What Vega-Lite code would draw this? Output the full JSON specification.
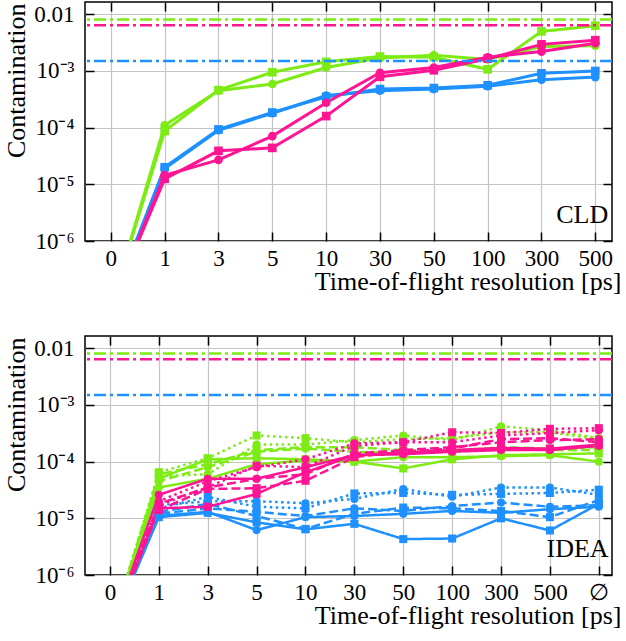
{
  "$schema": "https://vega.github.io/schema/vega-lite/v6.json",
  "padding": {"left": 2, "top": 0, "right": 2, "bottom": 0},
  "spacing": 39,
  "datasets": {
    "refs": [
      {"grp": "g1", "c": 0.0081},
      {"grp": "g2", "c": 0.0064},
      {"grp": "g3", "c": 0.0015}
    ],
    "cld": [
      {"grp":"g3","var":"v1","opt":"o1","step":0,"c":7e-8},
      {"grp":"g3","var":"v1","opt":"o1","step":1,"c":1.9e-5},
      {"grp":"g3","var":"v1","opt":"o1","step":2,"c":9e-5},
      {"grp":"g3","var":"v1","opt":"o1","step":3,"c":1.8e-4},
      {"grp":"g3","var":"v1","opt":"o1","step":4,"c":3.7e-4},
      {"grp":"g3","var":"v1","opt":"o1","step":5,"c":4.5e-4},
      {"grp":"g3","var":"v1","opt":"o1","step":6,"c":4.8e-4},
      {"grp":"g3","var":"v1","opt":"o1","step":7,"c":5.4e-4},
      {"grp":"g3","var":"v1","opt":"o1","step":8,"c":7.0e-4},
      {"grp":"g3","var":"v1","opt":"o1","step":9,"c":7.8e-4},
      {"grp":"g3","var":"v2","opt":"o1","step":0,"c":7e-8},
      {"grp":"g3","var":"v2","opt":"o1","step":1,"c":2.0e-5},
      {"grp":"g3","var":"v2","opt":"o1","step":2,"c":9.3e-5},
      {"grp":"g3","var":"v2","opt":"o1","step":3,"c":1.85e-4},
      {"grp":"g3","var":"v2","opt":"o1","step":4,"c":3.5e-4},
      {"grp":"g3","var":"v2","opt":"o1","step":5,"c":4.8e-4},
      {"grp":"g3","var":"v2","opt":"o1","step":6,"c":5.0e-4},
      {"grp":"g3","var":"v2","opt":"o1","step":7,"c":5.6e-4},
      {"grp":"g3","var":"v2","opt":"o1","step":8,"c":9.1e-4},
      {"grp":"g3","var":"v2","opt":"o1","step":9,"c":1.0e-3},
      {"grp":"g1","var":"v1","opt":"o1","step":0,"c":7e-8},
      {"grp":"g1","var":"v1","opt":"o1","step":1,"c":1.1e-4},
      {"grp":"g1","var":"v1","opt":"o1","step":2,"c":4.5e-4},
      {"grp":"g1","var":"v1","opt":"o1","step":3,"c":5.9e-4},
      {"grp":"g1","var":"v1","opt":"o1","step":4,"c":1.15e-3},
      {"grp":"g1","var":"v1","opt":"o1","step":5,"c":1.7e-3},
      {"grp":"g1","var":"v1","opt":"o1","step":6,"c":1.9e-3},
      {"grp":"g1","var":"v1","opt":"o1","step":7,"c":1.6e-3},
      {"grp":"g1","var":"v1","opt":"o1","step":8,"c":2.7e-3},
      {"grp":"g1","var":"v1","opt":"o1","step":9,"c":2.8e-3},
      {"grp":"g1","var":"v2","opt":"o1","step":0,"c":7e-8},
      {"grp":"g1","var":"v2","opt":"o1","step":1,"c":8.7e-5},
      {"grp":"g1","var":"v2","opt":"o1","step":2,"c":4.6e-4},
      {"grp":"g1","var":"v2","opt":"o1","step":3,"c":9.5e-4},
      {"grp":"g1","var":"v2","opt":"o1","step":4,"c":1.45e-3},
      {"grp":"g1","var":"v2","opt":"o1","step":5,"c":1.8e-3},
      {"grp":"g1","var":"v2","opt":"o1","step":6,"c":1.75e-3},
      {"grp":"g1","var":"v2","opt":"o1","step":7,"c":1.07e-3},
      {"grp":"g1","var":"v2","opt":"o1","step":8,"c":5.0e-3},
      {"grp":"g1","var":"v2","opt":"o1","step":9,"c":6.3e-3},
      {"grp":"g2","var":"v1","opt":"o1","step":0,"c":7e-8},
      {"grp":"g2","var":"v1","opt":"o1","step":1,"c":1.45e-5},
      {"grp":"g2","var":"v1","opt":"o1","step":2,"c":2.7e-5},
      {"grp":"g2","var":"v1","opt":"o1","step":3,"c":7.1e-5},
      {"grp":"g2","var":"v1","opt":"o1","step":4,"c":2.75e-4},
      {"grp":"g2","var":"v1","opt":"o1","step":5,"c":9.3e-4},
      {"grp":"g2","var":"v1","opt":"o1","step":6,"c":1.15e-3},
      {"grp":"g2","var":"v1","opt":"o1","step":7,"c":1.75e-3},
      {"grp":"g2","var":"v1","opt":"o1","step":8,"c":2.2e-3},
      {"grp":"g2","var":"v1","opt":"o1","step":9,"c":3.1e-3},
      {"grp":"g2","var":"v2","opt":"o1","step":0,"c":7e-8},
      {"grp":"g2","var":"v2","opt":"o1","step":1,"c":1.25e-5},
      {"grp":"g2","var":"v2","opt":"o1","step":2,"c":3.9e-5},
      {"grp":"g2","var":"v2","opt":"o1","step":3,"c":4.4e-5},
      {"grp":"g2","var":"v2","opt":"o1","step":4,"c":1.6e-4},
      {"grp":"g2","var":"v2","opt":"o1","step":5,"c":7.9e-4},
      {"grp":"g2","var":"v2","opt":"o1","step":6,"c":1.03e-3},
      {"grp":"g2","var":"v2","opt":"o1","step":7,"c":1.65e-3},
      {"grp":"g2","var":"v2","opt":"o1","step":8,"c":2.95e-3},
      {"grp":"g2","var":"v2","opt":"o1","step":9,"c":3.5e-3}
    ],
    "idea": [
      {"grp":"g3","var":"v1","opt":"o1","step":0,"c":1e-7},{"grp":"g3","var":"v1","opt":"o1","step":1,"c":1.1e-5},{"grp":"g3","var":"v1","opt":"o1","step":2,"c":1.3e-5},{"grp":"g3","var":"v1","opt":"o1","step":3,"c":6.2e-6},{"grp":"g3","var":"v1","opt":"o1","step":4,"c":1.05e-5},{"grp":"g3","var":"v1","opt":"o1","step":5,"c":1.1e-5},{"grp":"g3","var":"v1","opt":"o1","step":6,"c":1.2e-5},{"grp":"g3","var":"v1","opt":"o1","step":7,"c":1.35e-5},{"grp":"g3","var":"v1","opt":"o1","step":8,"c":1.25e-5},{"grp":"g3","var":"v1","opt":"o1","step":9,"c":1.45e-5},{"grp":"g3","var":"v1","opt":"o1","step":10,"c":1.6e-5},
      {"grp":"g3","var":"v2","opt":"o1","step":0,"c":1e-7},{"grp":"g3","var":"v2","opt":"o1","step":1,"c":1.05e-5},{"grp":"g3","var":"v2","opt":"o1","step":2,"c":1.25e-5},{"grp":"g3","var":"v2","opt":"o1","step":3,"c":8.5e-6},{"grp":"g3","var":"v2","opt":"o1","step":4,"c":6.4e-6},{"grp":"g3","var":"v2","opt":"o1","step":5,"c":8.0e-6},{"grp":"g3","var":"v2","opt":"o1","step":6,"c":4.3e-6},{"grp":"g3","var":"v2","opt":"o1","step":7,"c":4.4e-6},{"grp":"g3","var":"v2","opt":"o1","step":8,"c":1.0e-5},{"grp":"g3","var":"v2","opt":"o1","step":9,"c":6.1e-6},{"grp":"g3","var":"v2","opt":"o1","step":10,"c":1.8e-5},
      {"grp":"g3","var":"v1","opt":"o2","step":0,"c":1e-7},{"grp":"g3","var":"v1","opt":"o2","step":1,"c":1.2e-5},{"grp":"g3","var":"v1","opt":"o2","step":2,"c":1.5e-5},{"grp":"g3","var":"v1","opt":"o2","step":3,"c":1.3e-5},{"grp":"g3","var":"v1","opt":"o2","step":4,"c":1.1e-5},{"grp":"g3","var":"v1","opt":"o2","step":5,"c":1.5e-5},{"grp":"g3","var":"v1","opt":"o2","step":6,"c":1.35e-5},{"grp":"g3","var":"v1","opt":"o2","step":7,"c":1.65e-5},{"grp":"g3","var":"v1","opt":"o2","step":8,"c":1.9e-5},{"grp":"g3","var":"v1","opt":"o2","step":9,"c":1.6e-5},{"grp":"g3","var":"v1","opt":"o2","step":10,"c":1.7e-5},
      {"grp":"g3","var":"v2","opt":"o2","step":0,"c":1e-7},{"grp":"g3","var":"v2","opt":"o2","step":1,"c":1.3e-5},{"grp":"g3","var":"v2","opt":"o2","step":2,"c":1.8e-5},{"grp":"g3","var":"v2","opt":"o2","step":3,"c":1.1e-5},{"grp":"g3","var":"v2","opt":"o2","step":4,"c":6.5e-6},{"grp":"g3","var":"v2","opt":"o2","step":5,"c":1.2e-5},{"grp":"g3","var":"v2","opt":"o2","step":6,"c":1.55e-5},{"grp":"g3","var":"v2","opt":"o2","step":7,"c":1.5e-5},{"grp":"g3","var":"v2","opt":"o2","step":8,"c":1.35e-5},{"grp":"g3","var":"v2","opt":"o2","step":9,"c":1.05e-5},{"grp":"g3","var":"v2","opt":"o2","step":10,"c":2.1e-5},
      {"grp":"g3","var":"v1","opt":"o3","step":0,"c":1e-7},{"grp":"g3","var":"v1","opt":"o3","step":1,"c":1.7e-5},{"grp":"g3","var":"v1","opt":"o3","step":2,"c":2.0e-5},{"grp":"g3","var":"v1","opt":"o3","step":3,"c":2.0e-5},{"grp":"g3","var":"v1","opt":"o3","step":4,"c":1.85e-5},{"grp":"g3","var":"v1","opt":"o3","step":5,"c":2.2e-5},{"grp":"g3","var":"v1","opt":"o3","step":6,"c":3.3e-5},{"grp":"g3","var":"v1","opt":"o3","step":7,"c":2.4e-5},{"grp":"g3","var":"v1","opt":"o3","step":8,"c":3.5e-5},{"grp":"g3","var":"v1","opt":"o3","step":9,"c":3.5e-5},{"grp":"g3","var":"v1","opt":"o3","step":10,"c":2.6e-5},
      {"grp":"g3","var":"v2","opt":"o3","step":0,"c":1e-7},{"grp":"g3","var":"v2","opt":"o3","step":1,"c":1.5e-5},{"grp":"g3","var":"v2","opt":"o3","step":2,"c":2.4e-5},{"grp":"g3","var":"v2","opt":"o3","step":3,"c":1.6e-5},{"grp":"g3","var":"v2","opt":"o3","step":4,"c":1.5e-5},{"grp":"g3","var":"v2","opt":"o3","step":5,"c":2.75e-5},{"grp":"g3","var":"v2","opt":"o3","step":6,"c":2.8e-5},{"grp":"g3","var":"v2","opt":"o3","step":7,"c":2.6e-5},{"grp":"g3","var":"v2","opt":"o3","step":8,"c":2.7e-5},{"grp":"g3","var":"v2","opt":"o3","step":9,"c":2.8e-5},{"grp":"g3","var":"v2","opt":"o3","step":10,"c":3.2e-5},
      {"grp":"g1","var":"v1","opt":"o1","step":0,"c":1e-7},{"grp":"g1","var":"v1","opt":"o1","step":1,"c":3.5e-5},{"grp":"g1","var":"v1","opt":"o1","step":2,"c":5e-5},{"grp":"g1","var":"v1","opt":"o1","step":3,"c":9e-5},{"grp":"g1","var":"v1","opt":"o1","step":4,"c":1.05e-4},{"grp":"g1","var":"v1","opt":"o1","step":5,"c":1.0e-4},{"grp":"g1","var":"v1","opt":"o1","step":6,"c":1.2e-4},{"grp":"g1","var":"v1","opt":"o1","step":7,"c":1.2e-4},{"grp":"g1","var":"v1","opt":"o1","step":8,"c":1.25e-4},{"grp":"g1","var":"v1","opt":"o1","step":9,"c":1.3e-4},{"grp":"g1","var":"v1","opt":"o1","step":10,"c":1.0e-4},
      {"grp":"g1","var":"v2","opt":"o1","step":0,"c":1e-7},{"grp":"g1","var":"v2","opt":"o1","step":1,"c":5e-5},{"grp":"g1","var":"v2","opt":"o1","step":2,"c":1.1e-4},{"grp":"g1","var":"v2","opt":"o1","step":3,"c":1.15e-4},{"grp":"g1","var":"v2","opt":"o1","step":4,"c":1.1e-4},{"grp":"g1","var":"v2","opt":"o1","step":5,"c":1.0e-4},{"grp":"g1","var":"v2","opt":"o1","step":6,"c":7.6e-5},{"grp":"g1","var":"v2","opt":"o1","step":7,"c":1.1e-4},{"grp":"g1","var":"v2","opt":"o1","step":8,"c":1.3e-4},{"grp":"g1","var":"v2","opt":"o1","step":9,"c":1.35e-4},{"grp":"g1","var":"v2","opt":"o1","step":10,"c":1.4e-4},
      {"grp":"g1","var":"v1","opt":"o2","step":0,"c":1e-7},{"grp":"g1","var":"v1","opt":"o2","step":1,"c":4.5e-5},{"grp":"g1","var":"v1","opt":"o2","step":2,"c":8e-5},{"grp":"g1","var":"v1","opt":"o2","step":3,"c":1.5e-4},{"grp":"g1","var":"v1","opt":"o2","step":4,"c":1.7e-4},{"grp":"g1","var":"v1","opt":"o2","step":5,"c":1.5e-4},{"grp":"g1","var":"v1","opt":"o2","step":6,"c":1.4e-4},{"grp":"g1","var":"v1","opt":"o2","step":7,"c":1.5e-4},{"grp":"g1","var":"v1","opt":"o2","step":8,"c":1.7e-4},{"grp":"g1","var":"v1","opt":"o2","step":9,"c":1.6e-4},{"grp":"g1","var":"v1","opt":"o2","step":10,"c":1.6e-4},
      {"grp":"g1","var":"v2","opt":"o2","step":0,"c":1e-7},{"grp":"g1","var":"v2","opt":"o2","step":1,"c":6e-5},{"grp":"g1","var":"v2","opt":"o2","step":2,"c":9e-5},{"grp":"g1","var":"v2","opt":"o2","step":3,"c":1.6e-4},{"grp":"g1","var":"v2","opt":"o2","step":4,"c":1.8e-4},{"grp":"g1","var":"v2","opt":"o2","step":5,"c":1.8e-4},{"grp":"g1","var":"v2","opt":"o2","step":6,"c":1.6e-4},{"grp":"g1","var":"v2","opt":"o2","step":7,"c":1.55e-4},{"grp":"g1","var":"v2","opt":"o2","step":8,"c":1.8e-4},{"grp":"g1","var":"v2","opt":"o2","step":9,"c":1.7e-4},{"grp":"g1","var":"v2","opt":"o2","step":10,"c":1.8e-4},
      {"grp":"g1","var":"v1","opt":"o3","step":0,"c":1e-7},{"grp":"g1","var":"v1","opt":"o3","step":1,"c":5.5e-5},{"grp":"g1","var":"v1","opt":"o3","step":2,"c":6e-5},{"grp":"g1","var":"v1","opt":"o3","step":3,"c":2.0e-4},{"grp":"g1","var":"v1","opt":"o3","step":4,"c":2.0e-4},{"grp":"g1","var":"v1","opt":"o3","step":5,"c":2.4e-4},{"grp":"g1","var":"v1","opt":"o3","step":6,"c":2.9e-4},{"grp":"g1","var":"v1","opt":"o3","step":7,"c":2.4e-4},{"grp":"g1","var":"v1","opt":"o3","step":8,"c":4.2e-4},{"grp":"g1","var":"v1","opt":"o3","step":9,"c":3.6e-4},{"grp":"g1","var":"v1","opt":"o3","step":10,"c":2.6e-4},
      {"grp":"g1","var":"v2","opt":"o3","step":0,"c":1e-7},{"grp":"g1","var":"v2","opt":"o3","step":1,"c":6.5e-5},{"grp":"g1","var":"v2","opt":"o3","step":2,"c":1.15e-4},{"grp":"g1","var":"v2","opt":"o3","step":3,"c":2.9e-4},{"grp":"g1","var":"v2","opt":"o3","step":4,"c":2.6e-4},{"grp":"g1","var":"v2","opt":"o3","step":5,"c":2.2e-4},{"grp":"g1","var":"v2","opt":"o3","step":6,"c":2.5e-4},{"grp":"g1","var":"v2","opt":"o3","step":7,"c":2.6e-4},{"grp":"g1","var":"v2","opt":"o3","step":8,"c":3.3e-4},{"grp":"g1","var":"v2","opt":"o3","step":9,"c":3.3e-4},{"grp":"g1","var":"v2","opt":"o3","step":10,"c":2.5e-4},
      {"grp":"g2","var":"v1","opt":"o1","step":0,"c":1e-7},{"grp":"g2","var":"v1","opt":"o1","step":1,"c":2.6e-5},{"grp":"g2","var":"v1","opt":"o1","step":2,"c":5e-5},{"grp":"g2","var":"v1","opt":"o1","step":3,"c":5e-5},{"grp":"g2","var":"v1","opt":"o1","step":4,"c":8e-5},{"grp":"g2","var":"v1","opt":"o1","step":5,"c":1.3e-4},{"grp":"g2","var":"v1","opt":"o1","step":6,"c":1.35e-4},{"grp":"g2","var":"v1","opt":"o1","step":7,"c":1.5e-4},{"grp":"g2","var":"v1","opt":"o1","step":8,"c":1.6e-4},{"grp":"g2","var":"v1","opt":"o1","step":9,"c":1.6e-4},{"grp":"g2","var":"v1","opt":"o1","step":10,"c":1.9e-4},
      {"grp":"g2","var":"v2","opt":"o1","step":0,"c":1e-7},{"grp":"g2","var":"v2","opt":"o1","step":1,"c":1.5e-5},{"grp":"g2","var":"v2","opt":"o1","step":2,"c":1.6e-5},{"grp":"g2","var":"v2","opt":"o1","step":3,"c":2.7e-5},{"grp":"g2","var":"v2","opt":"o1","step":4,"c":6.5e-5},{"grp":"g2","var":"v2","opt":"o1","step":5,"c":1.3e-4},{"grp":"g2","var":"v2","opt":"o1","step":6,"c":1.45e-4},{"grp":"g2","var":"v2","opt":"o1","step":7,"c":1.6e-4},{"grp":"g2","var":"v2","opt":"o1","step":8,"c":1.75e-4},{"grp":"g2","var":"v2","opt":"o1","step":9,"c":1.7e-4},{"grp":"g2","var":"v2","opt":"o1","step":10,"c":2.0e-4},
      {"grp":"g2","var":"v1","opt":"o2","step":0,"c":1e-7},{"grp":"g2","var":"v1","opt":"o2","step":1,"c":1.8e-5},{"grp":"g2","var":"v1","opt":"o2","step":2,"c":3.5e-5},{"grp":"g2","var":"v1","opt":"o2","step":3,"c":5e-5},{"grp":"g2","var":"v1","opt":"o2","step":4,"c":6e-5},{"grp":"g2","var":"v1","opt":"o2","step":5,"c":1.4e-4},{"grp":"g2","var":"v1","opt":"o2","step":6,"c":1.6e-4},{"grp":"g2","var":"v1","opt":"o2","step":7,"c":1.8e-4},{"grp":"g2","var":"v1","opt":"o2","step":8,"c":2.2e-4},{"grp":"g2","var":"v1","opt":"o2","step":9,"c":2.4e-4},{"grp":"g2","var":"v1","opt":"o2","step":10,"c":2.5e-4},
      {"grp":"g2","var":"v2","opt":"o2","step":0,"c":1e-7},{"grp":"g2","var":"v2","opt":"o2","step":1,"c":1.4e-5},{"grp":"g2","var":"v2","opt":"o2","step":2,"c":3.3e-5},{"grp":"g2","var":"v2","opt":"o2","step":3,"c":3.4e-5},{"grp":"g2","var":"v2","opt":"o2","step":4,"c":4.6e-5},{"grp":"g2","var":"v2","opt":"o2","step":5,"c":1.2e-4},{"grp":"g2","var":"v2","opt":"o2","step":6,"c":1.5e-4},{"grp":"g2","var":"v2","opt":"o2","step":7,"c":1.7e-4},{"grp":"g2","var":"v2","opt":"o2","step":8,"c":2.5e-4},{"grp":"g2","var":"v2","opt":"o2","step":9,"c":2.6e-4},{"grp":"g2","var":"v2","opt":"o2","step":10,"c":2.2e-4},
      {"grp":"g2","var":"v1","opt":"o3","step":0,"c":1e-7},{"grp":"g2","var":"v1","opt":"o3","step":1,"c":2.0e-5},{"grp":"g2","var":"v1","opt":"o3","step":2,"c":4.5e-5},{"grp":"g2","var":"v1","opt":"o3","step":3,"c":8e-5},{"grp":"g2","var":"v1","opt":"o3","step":4,"c":1.1e-4},{"grp":"g2","var":"v1","opt":"o3","step":5,"c":2.1e-4},{"grp":"g2","var":"v1","opt":"o3","step":6,"c":2.2e-4},{"grp":"g2","var":"v1","opt":"o3","step":7,"c":2.2e-4},{"grp":"g2","var":"v1","opt":"o3","step":8,"c":2.9e-4},{"grp":"g2","var":"v1","opt":"o3","step":9,"c":3.2e-4},{"grp":"g2","var":"v1","opt":"o3","step":10,"c":3.6e-4},
      {"grp":"g2","var":"v2","opt":"o3","step":0,"c":1e-7},{"grp":"g2","var":"v2","opt":"o3","step":1,"c":1.7e-5},{"grp":"g2","var":"v2","opt":"o3","step":2,"c":3.5e-5},{"grp":"g2","var":"v2","opt":"o3","step":3,"c":8.5e-5},{"grp":"g2","var":"v2","opt":"o3","step":4,"c":8e-5},{"grp":"g2","var":"v2","opt":"o3","step":5,"c":1.9e-4},{"grp":"g2","var":"v2","opt":"o3","step":6,"c":2.2e-4},{"grp":"g2","var":"v2","opt":"o3","step":7,"c":3.3e-4},{"grp":"g2","var":"v2","opt":"o3","step":8,"c":3.2e-4},{"grp":"g2","var":"v2","opt":"o3","step":9,"c":3.8e-4},{"grp":"g2","var":"v2","opt":"o3","step":10,"c":3.9e-4}
    ]
  },
  "vconcat": [
    {
      "width": 527,
      "height": 239,
      "layer": [
        {
          "data": {"name": "cld"},
          "mark": {"type": "line", "strokeWidth": 3, "clip": true},
          "encoding": {
            "x": {"field": "step", "type": "quantitative", "scale": {"domain": [-0.48, 9.31], "nice": false, "zero": false},
              "axis": {"orient": "bottom", "offset": -9, "domain": false, "values": [0,1,2,3,4,5,6,7,8,9],
                "labelExpr": "['0','1','3','5','10','30','50','100','300','500','∅'][round(datum.value)]",
                "ticks": true, "tickSize": 9, "tickColor": "black", "tickWidth": 1.5,
                "grid": true, "gridColor": "#c4c4c4", "gridWidth": 1.2,
                "labelPadding": 6, "labelOverlap": false, "labelFlush": false,
                "title": "Time-of-flight resolution [ps]", "titleAlign": "right", "titleAnchor": "end", "titleBaseline": "alphabetic", "titleX": 536, "titleY": 57}},
            "y": {"field": "c", "type": "quantitative", "scale": {"type": "log", "domain": [1e-6, 0.0165], "nice": false},
              "axis": {"orient": "left", "offset": -9, "domain": false, "values": [1e-6,1e-5,1e-4,1e-3,1e-2],
                "labelExpr": "round(log(datum.value)/LN10) == -2 ? '0.01' : '10⁻' + ['⁰','¹','²','³','⁴','⁵','⁶','⁷'][-round(log(datum.value)/LN10)]",
                "ticks": true, "tickSize": 9, "tickColor": "black", "tickWidth": 1.5,
                "grid": true, "gridColor": "#c4c4c4", "gridWidth": 1.2,
                "labelPadding": 11, "labelOverlap": false, "labelFlush": false,
                "title": "Contamination", "titleAlign": "right", "titleAnchor": "end", "titleBaseline": "alphabetic", "titleAngle": 270, "titleX": -70, "titleY": 1, "titleFontSize": 26}},
            "color": {"field": "grp", "type": "nominal", "scale": {"domain": ["g1", "g2", "g3"], "range": ["#7cec14", "#ff1493", "#1e90ff"]}, "legend": null},
            "detail": {"field": "var"}
          }
        },
        {
          "data": {"name": "cld"},
          "mark": {"type": "point", "filled": true, "size": 75, "opacity": 1, "clip": true},
          "encoding": {
            "x": {"field": "step", "type": "quantitative",
              "axis": {"orient": "top", "offset": -9, "values": [0,1,2,3,4,5,6,7,8,9],
                "labels": false, "domain": false, "title": null, "grid": false,
                "ticks": true, "tickSize": 9, "tickColor": "black", "tickWidth": 1.5}},
            "y": {"field": "c", "type": "quantitative",
              "axis": {"orient": "right", "offset": -9, "values": [1e-6,1e-5,1e-4,1e-3,1e-2],
                "labels": false, "domain": false, "title": null, "grid": false,
                "ticks": true, "tickSize": 9, "tickColor": "black", "tickWidth": 1.5}},
            "color": {"field": "grp", "type": "nominal", "legend": null},
            "shape": {"field": "var", "type": "nominal", "scale": {"domain": ["v1", "v2"], "range": ["circle", "square"]}, "legend": null}
          }
        },
        {
          "data": {"name": "refs"},
          "mark": {"type": "rule", "strokeWidth": 2.5, "strokeDash": [12, 4, 3, 4]},
          "encoding": {
            "y": {"field": "c", "type": "quantitative", "axis": null},
            "color": {"field": "grp", "type": "nominal", "legend": null}
          }
        },
        {
          "data": {"values": [{"label": "CLD"}]},
          "mark": {"type": "text", "align": "right", "baseline": "alphabetic", "fontSize": 26, "font": "Liberation Serif", "color": "black"},
          "encoding": {
            "x": {"datum": 9.24, "type": "quantitative", "axis": null},
            "y": {"datum": 2.1e-6, "type": "quantitative", "axis": null},
            "text": {"field": "label"}
          }
        }
      ],
      "resolve": {"axis": {"x": "independent", "y": "independent"}}
    },
    {
      "width": 527,
      "height": 239,
      "layer": [
        {
          "data": {"name": "idea"},
          "mark": {"type": "line", "strokeWidth": 2.5, "clip": true},
          "encoding": {
            "x": {"field": "step", "type": "quantitative", "scale": {"domain": [-0.51, 10.27], "nice": false, "zero": false},
              "axis": {"orient": "bottom", "offset": -9, "domain": false, "values": [0,1,2,3,4,5,6,7,8,9,10],
                "labelExpr": "['0','1','3','5','10','30','50','100','300','500','∅'][round(datum.value)]",
                "ticks": true, "tickSize": 9, "tickColor": "black", "tickWidth": 1.5,
                "grid": true, "gridColor": "#c4c4c4", "gridWidth": 1.2,
                "labelPadding": 6, "labelOverlap": false, "labelFlush": false,
                "title": "Time-of-flight resolution [ps]", "titleAlign": "right", "titleAnchor": "end", "titleBaseline": "alphabetic", "titleX": 536, "titleY": 57}},
            "y": {"field": "c", "type": "quantitative", "scale": {"type": "log", "domain": [1e-6, 0.0165], "nice": false},
              "axis": {"orient": "left", "offset": -9, "domain": false, "values": [1e-6,1e-5,1e-4,1e-3,1e-2],
                "labelExpr": "round(log(datum.value)/LN10) == -2 ? '0.01' : '10⁻' + ['⁰','¹','²','³','⁴','⁵','⁶','⁷'][-round(log(datum.value)/LN10)]",
                "ticks": true, "tickSize": 9, "tickColor": "black", "tickWidth": 1.5,
                "grid": true, "gridColor": "#c4c4c4", "gridWidth": 1.2,
                "labelPadding": 11, "labelOverlap": false, "labelFlush": false,
                "title": "Contamination", "titleAlign": "right", "titleAnchor": "end", "titleBaseline": "alphabetic", "titleAngle": 270, "titleX": -70, "titleY": 1, "titleFontSize": 26}},
            "color": {"field": "grp", "type": "nominal", "scale": {"domain": ["g1", "g2", "g3"], "range": ["#7cec14", "#ff1493", "#1e90ff"]}, "legend": null},
            "strokeDash": {"field": "opt", "type": "nominal", "scale": {"domain": ["o1", "o2", "o3"], "range": [[1, 0], [9, 4], [2.5, 3.5]]}, "legend": null},
            "detail": {"field": "var"}
          }
        },
        {
          "data": {"name": "idea"},
          "mark": {"type": "point", "filled": true, "size": 65, "opacity": 1, "clip": true},
          "encoding": {
            "x": {"field": "step", "type": "quantitative",
              "axis": {"orient": "top", "offset": -9, "values": [0,1,2,3,4,5,6,7,8,9,10],
                "labels": false, "domain": false, "title": null, "grid": false,
                "ticks": true, "tickSize": 9, "tickColor": "black", "tickWidth": 1.5}},
            "y": {"field": "c", "type": "quantitative",
              "axis": {"orient": "right", "offset": -9, "values": [1e-6,1e-5,1e-4,1e-3,1e-2],
                "labels": false, "domain": false, "title": null, "grid": false,
                "ticks": true, "tickSize": 9, "tickColor": "black", "tickWidth": 1.5}},
            "color": {"field": "grp", "type": "nominal", "legend": null},
            "shape": {"field": "var", "type": "nominal", "scale": {"domain": ["v1", "v2"], "range": ["circle", "square"]}, "legend": null}
          }
        },
        {
          "data": {"name": "refs"},
          "mark": {"type": "rule", "strokeWidth": 2.5, "strokeDash": [12, 4, 3, 4]},
          "encoding": {
            "y": {"field": "c", "type": "quantitative", "axis": null},
            "color": {"field": "grp", "type": "nominal", "legend": null}
          }
        },
        {
          "data": {"values": [{"label": "IDEA"}]},
          "mark": {"type": "text", "align": "right", "baseline": "alphabetic", "fontSize": 26, "font": "Liberation Serif", "color": "black"},
          "encoding": {
            "x": {"datum": 10.2, "type": "quantitative", "axis": null},
            "y": {"datum": 2.1e-6, "type": "quantitative", "axis": null},
            "text": {"field": "label"}
          }
        }
      ],
      "resolve": {"axis": {"x": "independent", "y": "independent"}}
    }
  ],
  "config": {
    "font": "Liberation Serif",
    "view": {"stroke": "black", "strokeWidth": 1.5},
    "axis": {
      "labelFont": "Liberation Serif", "titleFont": "Liberation Serif",
      "labelFontSize": 23, "titleFontSize": 26, "titleFontWeight": "normal",
      "labelColor": "black", "titleColor": "black",
      "domainColor": "black", "domainWidth": 1.5,
      "tickColor": "black", "tickWidth": 1.5
    }
  }
}
